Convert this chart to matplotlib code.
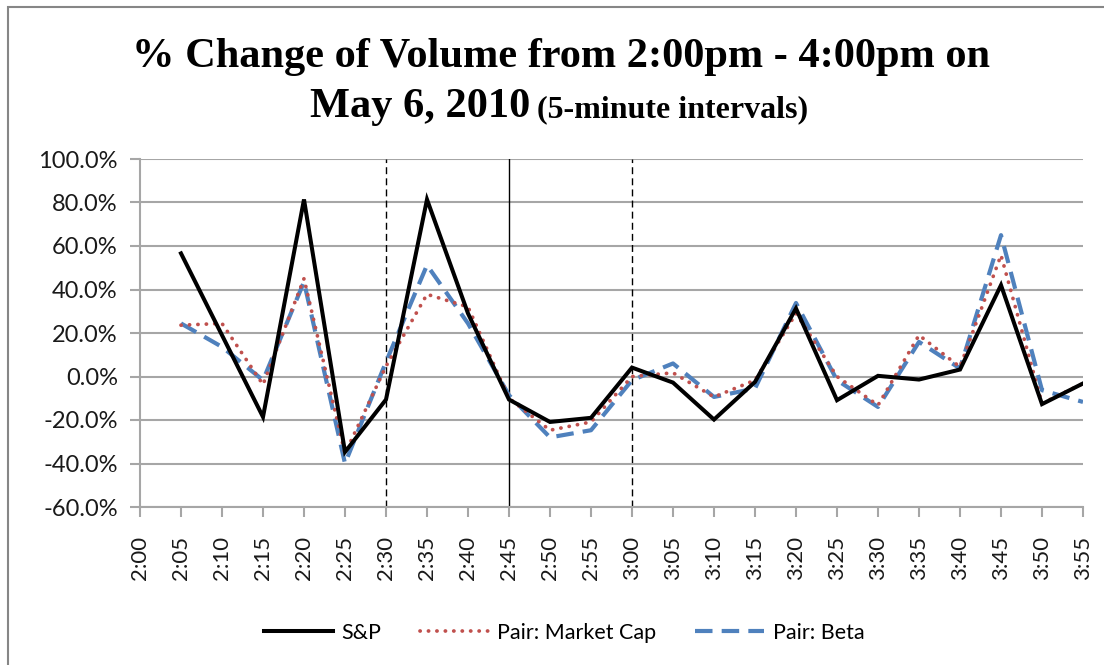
import numpy as np
import matplotlib
matplotlib.use('Agg')
import matplotlib.pyplot as plt
from matplotlib.patches import Rectangle

TIMES = ['2:00', '2:05', '2:10', '2:15', '2:20', '2:25', '2:30', '2:35', '2:40', '2:45',
         '2:50', '2:55', '3:00', '3:05', '3:10', '3:15', '3:20', '3:25', '3:30', '3:35',
         '3:40', '3:45', '3:50', '3:55']

# % change, first interval (2:00) has no value
SP = [np.nan, 56.6, 19.0, -18.6, 81.4, -34.7, -10.6, 81.4, 29.0, -10.6, -20.9, -19.0,
      4.1, -2.8, -19.8, -2.5, 31.3, -10.9, 0.3, -1.4, 3.2, 42.0, -12.7, -3.2]
MARKET_CAP = [np.nan, 23.6, 24.4, -3.7, 45.0, -35.4, 4.7, 37.8, 32.0, -10.0, -24.7, -20.9,
              0.0, 1.7, -9.4, -1.7, 29.0, 0.0, -13.2, 19.0, 4.4, 55.8, -12.4, -3.2]
BETA = [np.nan, 24.4, 13.6, -1.7, 43.5, -40.0, 6.7, 51.2, 24.4, -8.6, -28.0, -24.7,
        -1.7, 6.0, -9.4, -5.5, 33.8, -1.7, -14.0, 15.9, 3.7, 65.0, -6.3, -11.7]

# reference markers: dashed at 2:30 and 3:00, solid at 2:45
MARKERS = {'2:30': '--', '2:45': '-', '3:00': '--'}

RED = '#C0504D'
BLUE = '#4F81BD'
GRID = '#A6A6A6'
LABEL_FONT = 'Lato'
TITLE_FONT = 'Liberation Serif'

fig = plt.figure(figsize=(11.04, 6.65), dpi=100)
fig.patch.set_facecolor('white')
ax = fig.add_axes([140 / 1104, 1 - 507 / 665, (1083 - 140) / 1104, (507 - 159) / 665])

x = np.arange(len(TIMES))
ax.plot(x, SP, color='black', lw=2.9, label='S&P', zorder=5, solid_joinstyle='miter')
ax.plot(x, MARKET_CAP, color=RED, lw=2.7, linestyle=(0, (0.05, 2.2)),
        dash_capstyle='round', label='Pair: Market Cap', zorder=4)
ax.plot(x, BETA, color=BLUE, lw=3.0, linestyle=(0, (4.2, 2.2)),
        label='Pair: Beta', zorder=3)

for t, ls in MARKERS.items():
    ax.axvline(TIMES.index(t), color='black', lw=1.0, linestyle=ls,
               dashes=(5, 3) if ls == '--' else (None, None), zorder=2)

ax.set_xlim(0, len(TIMES) - 1)
ax.set_ylim(-60, 100)
ax.set_yticks(np.arange(-60, 101, 20))
ax.set_yticklabels([f'{v:.1f}%' for v in np.arange(-60, 101, 20)],
                   fontsize=17, family=LABEL_FONT)
ax.set_xticks(x)
ax.set_xticklabels(TIMES, rotation=90, fontsize=16, family=LABEL_FONT)
ax.yaxis.grid(True, color=GRID, lw=1.5)
ax.set_axisbelow(True)
for side in ['top', 'right']:
    ax.spines[side].set_visible(False)
for side in ['left', 'bottom']:
    ax.spines[side].set_color(GRID)
    ax.spines[side].set_linewidth(1.5)
ax.tick_params(axis='both', color=GRID, width=1.5, length=7, labelcolor='#1a1a1a')
ax.tick_params(axis='x', pad=14)
ax.tick_params(axis='y', pad=9)

fig.legend(loc='center', bbox_to_anchor=(564 / 1104, 1 - 633 / 665), ncol=3,
           frameon=False, handlelength=3.2, columnspacing=1.8, handletextpad=0.4,
           prop={'family': LABEL_FONT, 'size': 15.5})

# titles
fig.text(561 / 1104, 1 - 67 / 665, '% Change of Volume from 2:00pm - 4:00pm on',
         ha='center', va='baseline', fontsize=30.5, fontweight='bold', family=TITLE_FONT)
fig.text(530 / 1104, 1 - 117 / 665, 'May 6, 2010', ha='right', va='baseline',
         fontsize=30.5, fontweight='bold', family=TITLE_FONT)
fig.text(537 / 1104, 1 - 117 / 665, '(5-minute intervals)', ha='left', va='baseline',
         fontsize=23, fontweight='bold', family=TITLE_FONT)

# chart border
fig.patches.append(Rectangle((8 / 1104, -0.1), 1.2, 1.1 - 7 / 665, transform=fig.transFigure,
                             fill=False, edgecolor='#868686', lw=1.5))

fig.savefig('out.png', dpi=100, facecolor='white')
